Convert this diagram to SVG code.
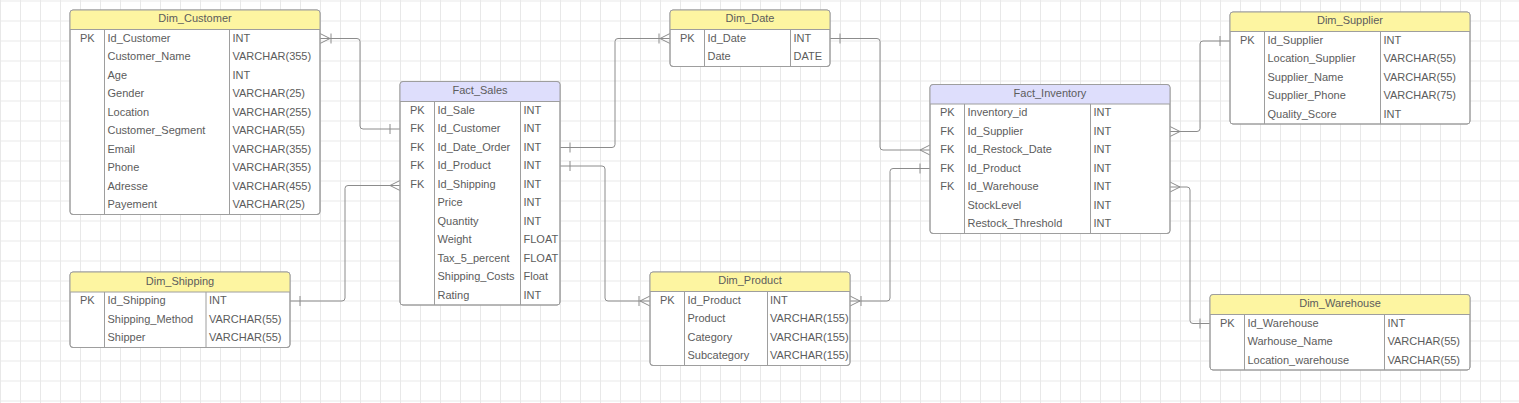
<svg xmlns="http://www.w3.org/2000/svg" width="1519" height="403" viewBox="0 0 1519 403">
<style>
text{font-family:"Liberation Sans",Arial,sans-serif;font-size:11px;fill:#5c5c5c;transform:translateY(-0.75px)}
.t{text-anchor:middle}
.c{text-anchor:middle}
.box{fill:#fff;stroke:#9e9e9e;stroke-width:1}
.ol{fill:none;stroke:#9e9e9e;stroke-width:1}
.hy{fill:#fdf5a1}
.hb{fill:#dedefc}
.dv{stroke:#9e9e9e;stroke-width:1;fill:none}
.cn path{fill:none;stroke:#8c8c8c;stroke-width:1}
</style>
<defs>
<pattern id="grid" width="20" height="20" patternUnits="userSpaceOnUse" x="0" y="0.5">
<path d="M0.5 0 V20 M0 0.5 H20" fill="none" stroke="#e8e8e8" stroke-width="1"/>
</pattern>
</defs>
<rect width="1519" height="403" fill="#fff"/>
<rect width="1519" height="403" fill="url(#grid)"/>

<g id="connectors" class="cn">
<path d="M320 38.5 H357 Q360 38.5 360 41.5 V126 Q360 129 363 129 H400"/>
<path d="M320 33.5 L330 38.5 L320 43.5 M331 33.5 V43.5 M390 124 V134"/>
<path d="M400 185.5 H348 Q345 185.5 345 188.5 V298 Q345 301 342 301 H290"/>
<path d="M400 180.5 L390 185.5 L400 190.5 M300 296 V306"/>
<path d="M560 147.5 H612 Q615 147.5 615 144.5 V41.5 Q615 38.5 618 38.5 H670"/>
<path d="M570 142.5 V152.5 M670 33.5 L660 38.5 L670 43.5 M659 33.5 V43.5"/>
<path d="M560 166 H602 Q605 166 605 169 V298 Q605 301 608 301 H650"/>
<path d="M570 161 V171 M650 296 L640 301 L650 306 M639 296 V306"/>
<path d="M830 38.5 H877 Q880 38.5 880 41.5 V147 Q880 150 883 150 H930"/>
<path d="M840 33.5 V43.5 M930 145 L920 150 L930 155"/>
<path d="M850 301 H887 Q890 301 890 298 V171.5 Q890 168.5 893 168.5 H930"/>
<path d="M850 296 L860 301 L850 306 M861 296 V306 M920 163.5 V173.5"/>
<path d="M1170 131.5 H1197 Q1200 131.5 1200 128.5 V44 Q1200 41 1203 41 H1230"/>
<path d="M1170 126.5 L1180 131.5 L1170 136.5 M1220 36 V46"/>
<path d="M1170 187 H1187 Q1190 187 1190 190 V320.5 Q1190 323.5 1193 323.5 H1210"/>
<path d="M1170 182 L1180 187 L1170 192 M1200 318.5 V328.5"/>
</g>

<g id="Dim_Customer">
<rect class="box" x="70" y="10" width="250" height="204.5" rx="3"/>
<path class="hy" d="M70 29.5 V13 Q70 10 73 10 H317 Q320 10 320 13 V29.5 Z"/>
<rect class="ol" x="70" y="10" width="250" height="204.5" rx="3"/>
<path class="dv" d="M70 29.5 H320 M104.5 29.5 V214.5 M229.5 29.5 V214.5"/>
<text class="t" x="195" y="23">Dim_Customer</text>
<text class="c" x="87.25" y="42.25">PK</text>
<text x="107.5" y="42.25">Id_Customer</text><text x="232.5" y="42.25">INT</text>
<text x="107.5" y="60.75">Customer_Name</text><text x="232.5" y="60.75">VARCHAR(355)</text>
<text x="107.5" y="79.25">Age</text><text x="232.5" y="79.25">INT</text>
<text x="107.5" y="97.75">Gender</text><text x="232.5" y="97.75">VARCHAR(25)</text>
<text x="107.5" y="116.25">Location</text><text x="232.5" y="116.25">VARCHAR(255)</text>
<text x="107.5" y="134.75">Customer_Segment</text><text x="232.5" y="134.75">VARCHAR(55)</text>
<text x="107.5" y="153.25">Email</text><text x="232.5" y="153.25">VARCHAR(355)</text>
<text x="107.5" y="171.75">Phone</text><text x="232.5" y="171.75">VARCHAR(355)</text>
<text x="107.5" y="190.25">Adresse</text><text x="232.5" y="190.25">VARCHAR(455)</text>
<text x="107.5" y="208.75">Payement</text><text x="232.5" y="208.75">VARCHAR(25)</text>
</g>

<g id="Fact_Sales">
<rect class="box" x="400" y="81.5" width="160" height="223.5" rx="3"/>
<path class="hb" d="M400 101.5 V84.5 Q400 81.5 403 81.5 H557 Q560 81.5 560 84.5 V101.5 Z"/>
<rect class="ol" x="400" y="81.5" width="160" height="223.5" rx="3"/>
<path class="dv" d="M400 101.5 H560 M434.5 101.5 V305 M520.5 101.5 V305"/>
<text class="t" x="480" y="95">Fact_Sales</text>
<text class="c" x="417.25" y="114.25">PK</text><text x="437.5" y="114.25">Id_Sale</text><text x="523.5" y="114.25">INT</text>
<text class="c" x="417.25" y="132.75">FK</text><text x="437.5" y="132.75">Id_Customer</text><text x="523.5" y="132.75">INT</text>
<text class="c" x="417.25" y="151.25">FK</text><text x="437.5" y="151.25">Id_Date_Order</text><text x="523.5" y="151.25">INT</text>
<text class="c" x="417.25" y="169.75">FK</text><text x="437.5" y="169.75">Id_Product</text><text x="523.5" y="169.75">INT</text>
<text class="c" x="417.25" y="188.25">FK</text><text x="437.5" y="188.25">Id_Shipping</text><text x="523.5" y="188.25">INT</text>
<text x="437.5" y="206.75">Price</text><text x="523.5" y="206.75">INT</text>
<text x="437.5" y="225.25">Quantity</text><text x="523.5" y="225.25">INT</text>
<text x="437.5" y="243.75">Weight</text><text x="523.5" y="243.75">FLOAT</text>
<text x="437.5" y="262.25">Tax_5_percent</text><text x="523.5" y="262.25">FLOAT</text>
<text x="437.5" y="280.75">Shipping_Costs</text><text x="523.5" y="280.75">Float</text>
<text x="437.5" y="299.25">Rating</text><text x="523.5" y="299.25">INT</text>
</g>

<g id="Dim_Date">
<rect class="box" x="670" y="10" width="160" height="56.5" rx="3"/>
<path class="hy" d="M670 29.5 V13 Q670 10 673 10 H827 Q830 10 830 13 V29.5 Z"/>
<rect class="ol" x="670" y="10" width="160" height="56.5" rx="3"/>
<path class="dv" d="M670 29.5 H830 M704.5 29.5 V66.5 M790.5 29.5 V66.5"/>
<text class="t" x="750" y="23">Dim_Date</text>
<text class="c" x="687.25" y="42.25">PK</text><text x="707.5" y="42.25">Id_Date</text><text x="793.5" y="42.25">INT</text>
<text x="707.5" y="60.75">Date</text><text x="793.5" y="60.75">DATE</text>
</g>

<g id="Fact_Inventory">
<rect class="box" x="930" y="84.5" width="240" height="149" rx="3"/>
<path class="hb" d="M930 104 V87.5 Q930 84.5 933 84.5 H1167 Q1170 84.5 1170 87.5 V104 Z"/>
<rect class="ol" x="930" y="84.5" width="240" height="149" rx="3"/>
<path class="dv" d="M930 104 H1170 M964.5 104 V233.5 M1090.5 104 V233.5"/>
<text class="t" x="1050" y="97.5">Fact_Inventory</text>
<text class="c" x="947.25" y="116.75">PK</text><text x="967.5" y="116.75">Inventory_id</text><text x="1093.5" y="116.75">INT</text>
<text class="c" x="947.25" y="135.25">FK</text><text x="967.5" y="135.25">Id_Supplier</text><text x="1093.5" y="135.25">INT</text>
<text class="c" x="947.25" y="153.75">FK</text><text x="967.5" y="153.75">Id_Restock_Date</text><text x="1093.5" y="153.75">INT</text>
<text class="c" x="947.25" y="172.25">FK</text><text x="967.5" y="172.25">Id_Product</text><text x="1093.5" y="172.25">INT</text>
<text class="c" x="947.25" y="190.75">FK</text><text x="967.5" y="190.75">Id_Warehouse</text><text x="1093.5" y="190.75">INT</text>
<text x="967.5" y="209.25">StockLevel</text><text x="1093.5" y="209.25">INT</text>
<text x="967.5" y="227.75">Restock_Threshold</text><text x="1093.5" y="227.75">INT</text>
</g>

<g id="Dim_Supplier">
<rect class="box" x="1230" y="12" width="240" height="112" rx="3"/>
<path class="hy" d="M1230 31.5 V15 Q1230 12 1233 12 H1467 Q1470 12 1470 15 V31.5 Z"/>
<rect class="ol" x="1230" y="12" width="240" height="112" rx="3"/>
<path class="dv" d="M1230 31.5 H1470 M1264.5 31.5 V124 M1380.5 31.5 V124"/>
<text class="t" x="1350" y="25">Dim_Supplier</text>
<text class="c" x="1247.25" y="44.25">PK</text><text x="1267.5" y="44.25">Id_Supplier</text><text x="1383.5" y="44.25">INT</text>
<text x="1267.5" y="62.75">Location_Supplier</text><text x="1383.5" y="62.75">VARCHAR(55)</text>
<text x="1267.5" y="81.25">Supplier_Name</text><text x="1383.5" y="81.25">VARCHAR(55)</text>
<text x="1267.5" y="99.75">Supplier_Phone</text><text x="1383.5" y="99.75">VARCHAR(75)</text>
<text x="1267.5" y="118.25">Quality_Score</text><text x="1383.5" y="118.25">INT</text>
</g>

<g id="Dim_Shipping">
<rect class="box" x="70" y="272" width="220" height="75.5" rx="3"/>
<path class="hy" d="M70 292 V275 Q70 272 73 272 H287 Q290 272 290 275 V292 Z"/>
<rect class="ol" x="70" y="272" width="220" height="75.5" rx="3"/>
<path class="dv" d="M70 292 H290 M104.5 292 V347.5 M206 292 V347.5"/>
<text class="t" x="180" y="285.5">Dim_Shipping</text>
<text class="c" x="87.25" y="304.75">PK</text><text x="107.5" y="304.75">Id_Shipping</text><text x="209" y="304.75">INT</text>
<text x="107.5" y="323.25">Shipping_Method</text><text x="209" y="323.25">VARCHAR(55)</text>
<text x="107.5" y="341.75">Shipper</text><text x="209" y="341.75">VARCHAR(55)</text>
</g>

<g id="Dim_Product">
<rect class="box" x="650" y="272" width="200" height="93.5" rx="3"/>
<path class="hy" d="M650 291.5 V275 Q650 272 653 272 H847 Q850 272 850 275 V291.5 Z"/>
<rect class="ol" x="650" y="272" width="200" height="93.5" rx="3"/>
<path class="dv" d="M650 291.5 H850 M684.5 291.5 V365.5 M767.5 291.5 V365.5"/>
<text class="t" x="750" y="285">Dim_Product</text>
<text class="c" x="667.25" y="304.25">PK</text><text x="687.5" y="304.25">Id_Product</text><text x="770" y="304.25">INT</text>
<text x="687.5" y="322.75">Product</text><text x="770" y="322.75">VARCHAR(155)</text>
<text x="687.5" y="341.25">Category</text><text x="770" y="341.25">VARCHAR(155)</text>
<text x="687.5" y="359.75">Subcategory</text><text x="770" y="359.75">VARCHAR(155)</text>
</g>

<g id="Dim_Warehouse">
<rect class="box" x="1210" y="294.5" width="260" height="75.5" rx="3"/>
<path class="hy" d="M1210 314.5 V297.5 Q1210 294.5 1213 294.5 H1467 Q1470 294.5 1470 297.5 V314.5 Z"/>
<rect class="ol" x="1210" y="294.5" width="260" height="75.5" rx="3"/>
<path class="dv" d="M1210 314.5 H1470 M1244.5 314.5 V370 M1384.5 314.5 V370"/>
<text class="t" x="1340" y="308">Dim_Warehouse</text>
<text class="c" x="1227.25" y="327.25">PK</text><text x="1247.5" y="327.25">Id_Warehouse</text><text x="1387.5" y="327.25">INT</text>
<text x="1247.5" y="345.75">Warhouse_Name</text><text x="1387.5" y="345.75">VARCHAR(55)</text>
<text x="1247.5" y="364.25">Location_warehouse</text><text x="1387.5" y="364.25">VARCHAR(55)</text>
</g>
</svg>
